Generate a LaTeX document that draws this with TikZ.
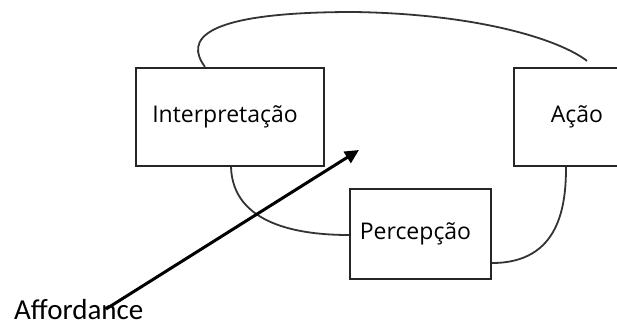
\documentclass[tikz,border=0pt]{standalone}
\usepackage{fontspec}
\setmainfont{Open Sans}
\newfontfamily\affont{Carlito}
\usetikzlibrary{arrows.meta}
\begin{document}
\begin{tikzpicture}[x=1pt,y=-1pt,
  box/.style={draw=black!85,line width=2.2pt,rectangle,inner sep=0pt,font=\fontsize{23}{26}\selectfont},
  link/.style={draw=black!80,line width=1.8pt},
  bigarrow/.style={draw=black,line width=3pt,-{Triangle[length=14pt,width=13pt]}}]
\useasboundingbox (0,0) rectangle (617,326);
\fill[white] (0,0) rectangle (617,326);
\node[box,minimum width=188pt,minimum height=98pt] (interp) at (230,117) {\hspace*{-10pt}Interpretação};
\node[box,minimum width=126pt,minimum height=98pt] (acao) at (577,117) {Ação};
\node[box,minimum width=141pt,minimum height=90pt] (perc) at (420.5,234) {\hspace*{-10pt}Percepção};
\node[font=\affont\fontsize{29}{32}\selectfont,inner sep=0pt,anchor=base west] (aff) at (14,319) {Affordance};
\coordinate (tip) at (359,150);
\draw[link] ([xshift=-25pt]interp.north) .. controls (185,40) and (200,12) .. (354,12)
  .. controls (480,14) and (560,40) .. ([xshift=10pt,yshift=6pt]acao.north);
\draw[link] ([xshift=1pt]interp.south) .. controls (233,225) and (300,235) .. ([yshift=-1pt]perc.west);
\draw[link] ([yshift=-29pt]perc.east) .. controls (560,263) and (566,205) .. ([xshift=-11pt]acao.south);
\draw[bigarrow] ([xshift=92pt,yshift=10pt]aff.base west) -- (tip);
\end{tikzpicture}
\end{document}
